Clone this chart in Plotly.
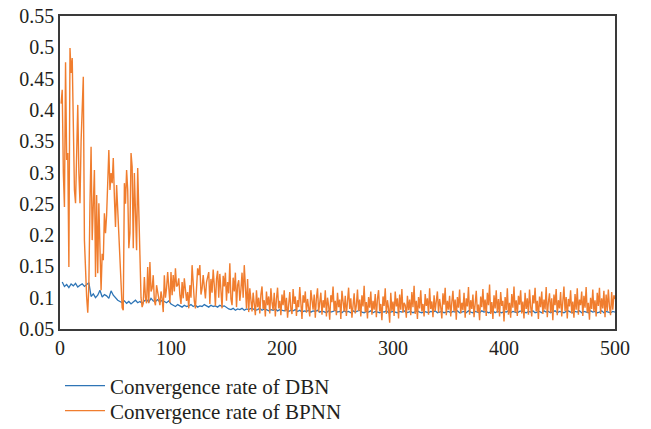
import plotly.graph_objects as go

# BPNN convergence rate, x = 1..500
bpnn_x = list(range(1, 501))
bpnn_y = [
    0.410, 0.432, 0.300, 0.245, 0.476, 0.320, 0.331, 0.149, 0.499, 0.459,
    0.483, 0.380, 0.272, 0.251, 0.330, 0.408, 0.300, 0.251, 0.350, 0.420,
    0.453, 0.192, 0.139, 0.101, 0.076, 0.120, 0.250, 0.341, 0.192, 0.250,
    0.304, 0.133, 0.264, 0.139, 0.251, 0.180, 0.112, 0.170, 0.160, 0.235,
    0.203, 0.232, 0.280, 0.336, 0.272, 0.299, 0.283, 0.323, 0.260, 0.213,
    0.280, 0.235, 0.190, 0.160, 0.100, 0.084, 0.080, 0.283, 0.250, 0.304,
    0.272, 0.179, 0.203, 0.331, 0.309, 0.179, 0.299, 0.220, 0.176, 0.307,
    0.240, 0.133, 0.100, 0.085, 0.091, 0.133, 0.100, 0.091, 0.149, 0.091,
    0.157, 0.110, 0.115, 0.136, 0.095, 0.088, 0.120, 0.109, 0.095, 0.088,
    0.110, 0.099, 0.077, 0.136, 0.100, 0.115, 0.141, 0.120, 0.092, 0.141,
    0.104, 0.136, 0.110, 0.147, 0.118, 0.120, 0.131, 0.104, 0.090, 0.125,
    0.099, 0.131, 0.112, 0.095, 0.109, 0.083, 0.120, 0.100, 0.152, 0.115,
    0.095, 0.083, 0.130, 0.147, 0.136, 0.152, 0.105, 0.115, 0.136, 0.110,
    0.099, 0.125, 0.136, 0.141, 0.090, 0.130, 0.108, 0.145, 0.120, 0.087,
    0.130, 0.143, 0.100, 0.138, 0.112, 0.083, 0.135, 0.118, 0.140, 0.095,
    0.125, 0.107, 0.155, 0.098, 0.088, 0.132, 0.110, 0.140, 0.085, 0.120,
    0.128, 0.095, 0.113, 0.140, 0.100, 0.152, 0.118, 0.083, 0.130, 0.077,
    0.115, 0.095, 0.078, 0.108, 0.090, 0.072, 0.112, 0.085, 0.100, 0.075,
    0.105, 0.118, 0.082, 0.096, 0.070, 0.110, 0.088, 0.102, 0.075, 0.115,
    0.092, 0.080, 0.108, 0.070, 0.098, 0.116, 0.083, 0.095, 0.072, 0.105,
    0.088, 0.112, 0.078, 0.100, 0.068, 0.095, 0.109, 0.082, 0.074, 0.114,
    0.090, 0.102, 0.071, 0.096, 0.085, 0.117, 0.080, 0.066, 0.104, 0.092,
    0.110, 0.076, 0.098, 0.086, 0.070, 0.112, 0.094, 0.081, 0.105, 0.068,
    0.099, 0.115, 0.077, 0.090, 0.108, 0.073, 0.096, 0.084, 0.112, 0.070,
    0.100, 0.087, 0.065, 0.104, 0.093, 0.118, 0.079, 0.095, 0.072, 0.108,
    0.085, 0.097, 0.066, 0.111, 0.089, 0.078, 0.103, 0.071, 0.094, 0.116,
    0.082, 0.099, 0.068, 0.092, 0.107, 0.075, 0.088, 0.113, 0.079, 0.097,
    0.070, 0.104, 0.086, 0.119, 0.077, 0.093, 0.067, 0.101, 0.084, 0.110,
    0.073, 0.095, 0.081, 0.106, 0.069, 0.098, 0.112, 0.078, 0.090, 0.064,
    0.102, 0.087, 0.115, 0.074, 0.096, 0.083, 0.060, 0.108, 0.079, 0.094,
    0.071, 0.110, 0.086, 0.099, 0.067, 0.105, 0.081, 0.114, 0.076, 0.092,
    0.088, 0.068, 0.103, 0.080, 0.097, 0.072, 0.109, 0.085, 0.119, 0.074,
    0.095, 0.066, 0.101, 0.083, 0.112, 0.078, 0.090, 0.070, 0.106, 0.087,
    0.099, 0.073, 0.115, 0.082, 0.094, 0.069, 0.104, 0.079, 0.091, 0.110,
    0.076, 0.098, 0.085, 0.067, 0.107, 0.089, 0.116, 0.072, 0.095, 0.081,
    0.103, 0.070, 0.093, 0.111, 0.078, 0.097, 0.065, 0.101, 0.084, 0.113,
    0.075, 0.092, 0.080, 0.108, 0.068, 0.099, 0.086, 0.117, 0.073, 0.096,
    0.082, 0.105, 0.069, 0.094, 0.111, 0.077, 0.089, 0.064, 0.102, 0.085,
    0.114, 0.079, 0.097, 0.071, 0.108, 0.088, 0.121, 0.074, 0.093, 0.066,
    0.104, 0.083, 0.112, 0.076, 0.098, 0.070, 0.109, 0.087, 0.095, 0.062,
    0.101, 0.080, 0.115, 0.073, 0.092, 0.068, 0.106, 0.084, 0.118, 0.077,
    0.096, 0.071, 0.103, 0.089, 0.112, 0.075, 0.094, 0.067, 0.108, 0.082,
    0.099, 0.073, 0.113, 0.086, 0.070, 0.104, 0.091, 0.116, 0.078, 0.095,
    0.066, 0.102, 0.085, 0.110, 0.074, 0.097, 0.081, 0.117, 0.069, 0.093,
    0.107, 0.076, 0.099, 0.064, 0.105, 0.088, 0.114, 0.072, 0.096, 0.083,
    0.109, 0.070, 0.092, 0.118, 0.079, 0.101, 0.067, 0.098, 0.086, 0.112,
    0.075, 0.094, 0.068, 0.106, 0.081, 0.115, 0.073, 0.097, 0.088, 0.110,
    0.071, 0.103, 0.084, 0.117, 0.076, 0.092, 0.065, 0.100, 0.082, 0.113,
    0.078, 0.096, 0.070, 0.108, 0.087, 0.116, 0.074, 0.099, 0.083, 0.111,
    0.069, 0.105, 0.079, 0.113, 0.086, 0.072, 0.109, 0.081, 0.104, 0.098,
]

# DBN convergence rate, x = 2, 4, ..., 500
dbn_x = list(range(2, 501, 2))
dbn_y = [
    0.125, 0.118, 0.121, 0.116, 0.122, 0.119, 0.123, 0.117, 0.120, 0.122,
    0.118, 0.121, 0.124, 0.102, 0.106, 0.100, 0.104, 0.112, 0.101, 0.105,
    0.103, 0.099, 0.111, 0.104, 0.100,
    0.096, 0.094, 0.092, 0.095, 0.091, 0.094, 0.090, 0.093, 0.096, 0.092,
    0.094, 0.091, 0.095, 0.097, 0.093, 0.099, 0.095, 0.094, 0.097, 0.093,
    0.096, 0.094, 0.092, 0.095, 0.090,
    0.088, 0.086, 0.089, 0.087, 0.085, 0.088, 0.086, 0.087, 0.089, 0.086,
    0.088, 0.085, 0.087, 0.086, 0.089, 0.087, 0.085, 0.088, 0.086, 0.087,
    0.085, 0.088, 0.086, 0.087, 0.084,
    0.082, 0.081, 0.083, 0.080, 0.082, 0.081, 0.083, 0.080, 0.082, 0.081,
    0.083, 0.082, 0.080, 0.081, 0.083, 0.080, 0.082, 0.081, 0.079, 0.081,
    0.080, 0.082, 0.079, 0.081, 0.080,
    0.079, 0.081, 0.078, 0.080, 0.079, 0.081, 0.078, 0.080, 0.077, 0.079,
    0.078, 0.080, 0.077, 0.079, 0.078, 0.080, 0.077, 0.079, 0.078, 0.076,
    0.079, 0.077, 0.078, 0.080, 0.077,
    0.078, 0.076, 0.079, 0.077, 0.078, 0.076, 0.079, 0.077, 0.078, 0.080,
    0.077, 0.076, 0.078, 0.077, 0.079, 0.076, 0.078, 0.077, 0.076, 0.078,
    0.077, 0.079, 0.076, 0.077, 0.078,
    0.077, 0.076, 0.078, 0.077, 0.079, 0.076, 0.077, 0.078, 0.076, 0.077,
    0.079, 0.077, 0.076, 0.078, 0.077, 0.076, 0.078, 0.077, 0.079, 0.076,
    0.077, 0.078, 0.076, 0.077, 0.078,
    0.076, 0.078, 0.077, 0.079, 0.076, 0.077, 0.078, 0.076, 0.079, 0.077,
    0.076, 0.078, 0.077, 0.076, 0.079, 0.077, 0.078, 0.076, 0.077, 0.079,
    0.076, 0.078, 0.077, 0.076, 0.078,
    0.077, 0.079, 0.076, 0.078, 0.077, 0.076, 0.078, 0.079, 0.077, 0.076,
    0.078, 0.077, 0.079, 0.076, 0.077, 0.078, 0.076, 0.079, 0.077, 0.078,
    0.076, 0.077, 0.079, 0.076, 0.078,
    0.077, 0.076, 0.078, 0.079, 0.077, 0.076, 0.078, 0.077, 0.079, 0.076,
    0.078, 0.077, 0.076, 0.079, 0.077, 0.078, 0.076, 0.077, 0.079, 0.076,
    0.078, 0.077, 0.076, 0.078, 0.077,
]

x_ticks = [0, 100, 200, 300, 400, 500]
y_ticks = [0.05, 0.1, 0.15, 0.2, 0.25, 0.3, 0.35, 0.4, 0.45, 0.5, 0.55]
y_tick_text = ["0.05", "0.1", "0.15", "0.2", "0.25", "0.3", "0.35", "0.4", "0.45", "0.5", "0.55"]

FONT = "Liberation Serif, Times New Roman, serif"
TXT = "#231F20"

fig = go.Figure()
fig.add_trace(go.Scatter(x=dbn_x, y=dbn_y, mode="lines", name="Convergence rate of DBN",
                         line=dict(color="#2E75B6", width=1.3), legend="legend"))
fig.add_trace(go.Scatter(x=bpnn_x, y=bpnn_y, mode="lines", name="Convergence rate of BPNN",
                         line=dict(color="#F07D2E", width=1.4), legend="legend2"))

leg_common = dict(x=0, xanchor="left", yref="container", yanchor="middle",
                  orientation="v", font=dict(family=FONT, size=21, color=TXT),
                  bgcolor="rgba(0,0,0,0)", itemwidth=40)

fig.update_layout(
    width=651, height=429,
    margin=dict(l=60, r=36, t=16, b=100, autoexpand=False),
    paper_bgcolor="white", plot_bgcolor="white",
    font=dict(family=FONT, size=20, color=TXT),
    showlegend=True,
    legend=dict(leg_common, y=1 - 386 / 429),
    legend2=dict(leg_common, y=1 - 411 / 429),
    xaxis=dict(range=[0, 500], tickvals=x_ticks, ticks="", showgrid=False, zeroline=False,
               showline=True, linecolor="#3A3A3A", linewidth=1.5, mirror=True,
               tickfont=dict(family=FONT, size=20)),
    yaxis=dict(range=[0.05, 0.55], tickvals=y_ticks, ticktext=y_tick_text, ticks="",
               showgrid=False, zeroline=False, showline=True, linecolor="#3A3A3A",
               linewidth=1.5, mirror=True, tickfont=dict(family=FONT, size=20)),
)

fig.write_html("out.html")
